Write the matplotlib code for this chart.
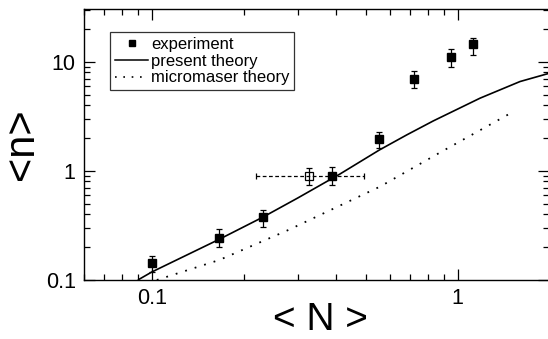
import matplotlib
matplotlib.use("Agg")
import matplotlib.pyplot as plt
from matplotlib.lines import Line2D
import numpy as np

plt.rcParams['font.family'] = ['Liberation Sans', 'DejaVu Sans']

# experiment (filled squares)
exp_N = [0.100, 0.166, 0.231, 0.388, 0.551, 0.718, 0.953, 1.124]
exp_n = [0.142, 0.244, 0.376, 0.906, 1.95, 7.01, 11.1, 14.5]
exp_lo = [0.119, 0.202, 0.308, 0.744, 1.615, 5.77, 9.05, 11.59]
exp_hi = [0.167, 0.292, 0.439, 1.081, 2.294, 8.23, 13.08, 16.71]

# open point with horizontal (dashed) error bar
open_N = [0.327]
open_n = [0.900]
open_ylo = [0.744]
open_yhi = [1.059]
open_xlo = [0.2185]
open_xhi = [0.495]

# present theory (solid)
pt_N = [0.0900, 0.100, 0.1662, 0.2311, 0.300, 0.4125, 0.5549, 0.6814, 0.8324, 1.183, 1.598, 1.98]
pt_n = [0.100, 0.1185, 0.2364, 0.378, 0.565, 0.9386, 1.558, 2.14, 2.876, 4.645, 6.597, 7.82]

# micromaser theory (dotted)
mm_N = [0.1038, 0.1662, 0.2796, 0.557, 0.8753, 1.501]
mm_n = [0.100, 0.1526, 0.2876, 0.7178, 1.475, 3.427]

fig = plt.figure(figsize=(5.48, 3.39), dpi=100)
ax = fig.add_axes([84/548, 1-280/339, 464.5/548, 271/339])
ax.set_xscale('log')
ax.set_yscale('log')
ax.set_xlim(0.06, 1.98)
ax.set_ylim(0.1, 30.5)

ax.plot(pt_N, pt_n, color='black', lw=1.2, solid_capstyle='butt')
ax.plot(mm_N, mm_n, color='black', lw=1.3, linestyle=(0, (1, 4.5)))

exp_N_a = np.array(exp_N); exp_n_a = np.array(exp_n)
yerr = [exp_n_a - np.array(exp_lo), np.array(exp_hi) - exp_n_a]
ax.errorbar(exp_N, exp_n, yerr=yerr, fmt='s', color='black', ms=6,
            elinewidth=0.9, capsize=2.4, capthick=0.9)

on = np.array(open_n); oN = np.array(open_N)
ax.errorbar(open_N, open_n,
            yerr=[on - np.array(open_ylo), np.array(open_yhi) - on],
            fmt='none', ecolor='black', elinewidth=0.9, capsize=2.4, capthick=0.9)
eb = ax.errorbar(open_N, open_n,
                 xerr=[oN - np.array(open_xlo), np.array(open_xhi) - oN],
                 fmt='none', ecolor='black', elinewidth=0.9, capsize=2.4, capthick=0.9)
for lc in eb[2]:
    lc.set_linestyle((0, (3, 2)))
ax.plot(open_N, open_n, 's', ms=6, mfc='none', mec='black', mew=0.9)

ax.tick_params(which='both', direction='in', top=True, right=True, width=0.9)
ax.tick_params(which='major', length=8, labelsize=15.5, pad=6)
ax.tick_params(which='minor', length=4.5)
ax.set_xticks([0.1, 1])
ax.set_xticklabels(['0.1', '1'])
ax.set_yticks([0.1, 1, 10])
ax.set_yticklabels(['0.1', '1', '10'])
for s in ax.spines.values():
    s.set_linewidth(1.0)

ax.set_xlabel('< N >', fontsize=28)
ax.xaxis.set_label_coords((320-84)/464.5, (280-338.5)/271)
ax.xaxis.label.set_va('bottom')
ax.set_ylabel('<n>', fontsize=30)
ax.yaxis.set_label_coords((22-84)/464.5, 0.5)
ax.yaxis.label.set_va('center')

handles = [Line2D([], [], marker='s', ms=5, color='black', lw=0),
           Line2D([], [], color='black', lw=1.1),
           Line2D([], [], color='black', lw=1.2, linestyle=(0, (1, 4.0)))]
leg = ax.legend(handles, ['experiment', 'present theory', 'micromaser theory'],
                loc='upper left', bbox_to_anchor=(26/464.5, 0.915), borderaxespad=0,
                fontsize=12, frameon=True, fancybox=False, handlelength=2.0,
                handletextpad=0.15, labelspacing=0.1, borderpad=0.3)
leg.get_frame().set_edgecolor('black')
leg.get_frame().set_linewidth(0.9)

fig.savefig('out.png', dpi=100)
